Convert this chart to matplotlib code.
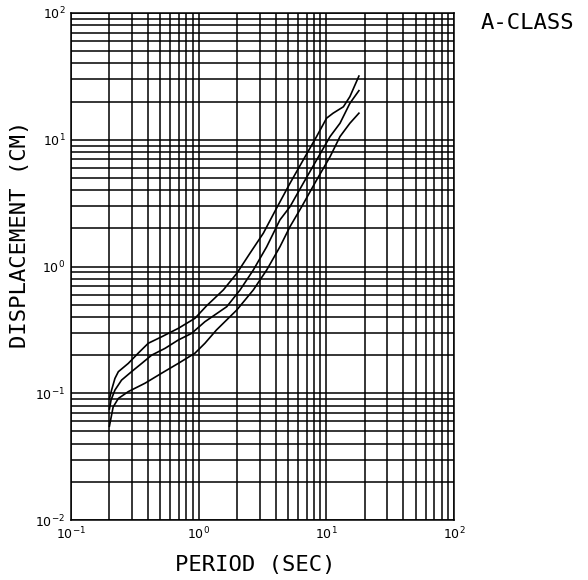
import numpy as np
import matplotlib.pyplot as plt
from matplotlib.ticker import LogLocator, NullFormatter

# Spectral displacement curves, A-class site (period in sec, displacement in cm)
period_upper = [0.20, 0.208, 0.221, 0.235, 0.281, 0.336, 0.403, 0.513, 0.692, 0.935,
                1.15, 1.56, 1.99, 2.52, 3.21, 4.08, 5.19, 6.59, 8.39, 10.05,
                11.3, 13.6, 15.3, 18.0]
disp_upper = [0.090, 0.106, 0.131, 0.148, 0.172, 0.207, 0.248, 0.279, 0.325, 0.390,
              0.488, 0.653, 0.883, 1.27, 1.83, 2.89, 4.53, 6.92, 10.6, 14.8,
              16.2, 18.2, 21.9, 31.8]

period_mid = [0.20, 0.206, 0.221, 0.249, 0.298, 0.358, 0.429, 0.545, 0.692, 0.881,
              1.12, 1.66, 2.11, 2.68, 3.41, 4.33, 5.19, 6.59, 8.39, 10.7,
              12.8, 15.3, 18.0]
disp_mid = [0.075, 0.0885, 0.106, 0.127, 0.148, 0.172, 0.200, 0.226, 0.263, 0.297,
            0.367, 0.482, 0.653, 0.938, 1.43, 2.33, 2.96, 4.53, 6.92, 10.6,
            13.5, 19.4, 24.4]

period_low = [0.20, 0.214, 0.235, 0.281, 0.380, 0.513, 0.692, 0.935, 1.12, 1.38,
              1.99, 2.68, 3.41, 4.33, 5.19, 6.41, 8.39, 10.7, 12.8, 15.3, 18.0]
disp_low = [0.055, 0.078, 0.091, 0.103, 0.120, 0.144, 0.172, 0.207, 0.248, 0.316,
            0.454, 0.653, 0.938, 1.43, 2.06, 2.96, 4.81, 7.35, 10.6, 13.5, 16.2]

x_ticks = [0.1, 1, 10, 100]
y_ticks = [0.01, 0.1, 1, 10, 100]

plt.rcParams['font.family'] = 'DejaVu Sans'

fig = plt.figure(figsize=(5.88, 5.80), dpi=100)
ax = fig.add_axes([0.1207, 0.1034, 0.6514, 0.8742])

ax.set_xscale('log')
ax.set_yscale('log')
ax.set_xlim(0.1, 100)
ax.set_ylim(0.01, 100)

for p, d in [(period_upper, disp_upper), (period_mid, disp_mid), (period_low, disp_low)]:
    ax.plot(p, d, color='black', linewidth=1.2, zorder=3)

# full log-paper grid
ax.xaxis.set_major_locator(LogLocator(base=10, numticks=10))
ax.yaxis.set_major_locator(LogLocator(base=10, numticks=10))
ax.xaxis.set_minor_locator(LogLocator(base=10, subs=np.arange(2, 10), numticks=20))
ax.yaxis.set_minor_locator(LogLocator(base=10, subs=np.arange(2, 10), numticks=20))
ax.xaxis.set_minor_formatter(NullFormatter())
ax.yaxis.set_minor_formatter(NullFormatter())
ax.grid(True, which='both', color='black', linewidth=1.1)
ax.set_axisbelow(True)
for s in ax.spines.values():
    s.set_linewidth(1.1)

ax.set_xticks(x_ticks)
ax.set_yticks(y_ticks)
ax.tick_params(which='both', length=0, labelsize=9, pad=4)

# axis titles placed in figure coordinates
fig.text(0.434, 0.026, 'PERIOD (SEC)', family='DejaVu Sans Mono', fontsize=16,
         ha='center', va='center')
fig.text(0.034, 0.596, 'DISPLACEMENT (CM)', family='DejaVu Sans Mono', fontsize=16,
         ha='center', va='center', rotation=90)
fig.text(0.818, 0.960, 'A-CLASS', family='DejaVu Sans Mono', fontsize=16, va='center')

fig.savefig('out.png', dpi=100, facecolor='white')
